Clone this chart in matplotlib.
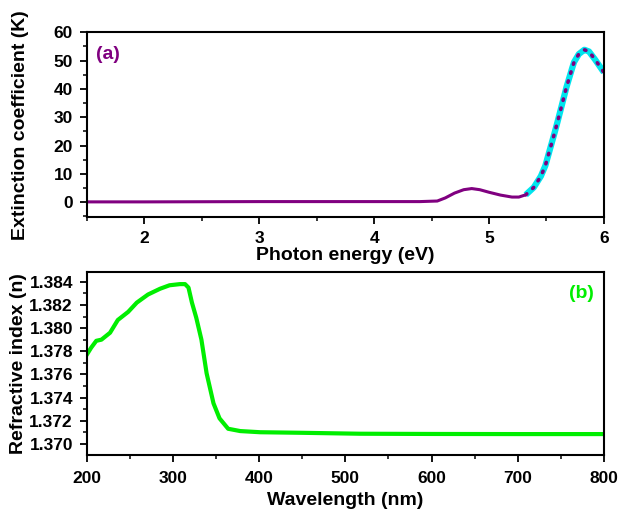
import matplotlib
matplotlib.use('Agg')
import matplotlib.pyplot as plt
import numpy as np
from matplotlib.ticker import MultipleLocator, FormatStrFormatter

plt.rcParams['font.family'] = ['Liberation Sans', 'DejaVu Sans']
plt.rcParams['font.weight'] = 'bold'

# panel (a): extinction coefficient vs photon energy
energy = [1.5, 2.0, 3.0, 4.0, 4.4, 4.55, 4.62, 4.7, 4.78, 4.85, 4.92, 5.0, 5.1, 5.2, 5.26, 5.32]
k_val = [0.1, 0.1, 0.2, 0.2, 0.2, 0.4, 1.5, 3.2, 4.4, 4.8, 4.4, 3.5, 2.5, 1.8, 1.8, 2.6]
# fitted region (cyan + dotted)
fit_energy = [5.32, 5.39, 5.45, 5.49, 5.53, 5.58, 5.63, 5.67, 5.71, 5.74, 5.78, 5.83, 5.87, 5.91, 5.95, 6.0]
fit_k = [2.6, 5.2, 9.0, 12.8, 18.5, 25.8, 33.5, 40.0, 45.5, 49.4, 52.2, 53.8, 53.2, 51.1, 48.8, 45.8]

# panel (b): refractive index vs wavelength
wavelength = [200, 205, 211, 217, 227, 236, 248, 258, 271, 285, 296, 308, 314, 318, 322, 327,
              333, 339, 347, 354, 364, 378, 401, 450, 517, 600, 700, 800]
n_val = [1.3777, 1.3783, 1.3789, 1.3790, 1.3796, 1.3807, 1.3814, 1.3822, 1.3829, 1.3834,
         1.3837, 1.3838, 1.3838, 1.3835, 1.3822, 1.3809, 1.3790, 1.3761, 1.3735, 1.3722,
         1.3713, 1.3711, 1.3710, 1.37095, 1.37087, 1.37085, 1.37084, 1.37084]

def smooth(x, y, num=400):
    xs = np.linspace(x[0], x[-1], num)
    return xs, np.interp(xs, x, y)

fig = plt.figure(figsize=(6.2, 5.11), dpi=100)
ax1 = fig.add_axes([0.140, 0.575, 0.834, 0.362])
ax2 = fig.add_axes([0.140, 0.110, 0.834, 0.358])

purple = '#800080'
ax1.plot(energy, k_val, color=purple, lw=2.2)
fx, fy = smooth(fit_energy, fit_k, 300)
ax1.plot(fx, fy, color='#00e5ee', lw=4.5, solid_capstyle='butt')
ax1.plot(fx, fy, color=purple, lw=2.6, ls=(0, (0.4, 2.2)), dash_capstyle='round')
ax1.set_xlim(1.5, 6)
ax1.set_ylim(-5.3, 60)
ax1.xaxis.set_major_locator(MultipleLocator(1))
ax1.xaxis.set_minor_locator(MultipleLocator(0.5))
ax1.yaxis.set_major_locator(MultipleLocator(10))
ax1.yaxis.set_minor_locator(MultipleLocator(5))
ax1.set_xlabel('Photon energy (eV)', fontsize=14, fontweight='bold', labelpad=1)
ax1.set_ylabel('Extinction coefficient (K)', fontsize=14, fontweight='bold')
ax1.yaxis.set_label_coords(-0.112, 0.5)
ax1.text(0.017, 0.855, '(a)', transform=ax1.transAxes, color=purple, fontsize=14, fontweight='bold')

ax2.plot(wavelength, n_val, color='#00ee00', lw=3)
ax2.set_xlim(200, 800)
ax2.set_ylim(1.36905, 1.38486)
ax2.xaxis.set_major_locator(MultipleLocator(100))
ax2.xaxis.set_minor_locator(MultipleLocator(50))
ax2.yaxis.set_major_locator(MultipleLocator(0.002))
ax2.yaxis.set_minor_locator(MultipleLocator(0.001))
ax2.yaxis.set_major_formatter(FormatStrFormatter('%.3f'))
ax2.set_xlabel('Wavelength (nm)', fontsize=14, fontweight='bold', labelpad=4)
ax2.set_ylabel('Refractive index (n)', fontsize=14, fontweight='bold')
ax2.yaxis.set_label_coords(-0.115, 0.5)
ax2.text(0.932, 0.857, '(b)', transform=ax2.transAxes, color='#00ee00', fontsize=14, fontweight='bold')

for ax in (ax1, ax2):
    for s in ax.spines.values():
        s.set_linewidth(1.5)
    ax.tick_params(direction='out', width=1.3, length=5, labelsize=12.5, pad=5)
    ax.tick_params(which='minor', direction='out', width=1.1, length=3)
    for lab in ax.get_xticklabels() + ax.get_yticklabels():
        lab.set_fontweight('bold')
ax2.tick_params(axis='x', pad=7)

fig.savefig('out.png', dpi=100)
